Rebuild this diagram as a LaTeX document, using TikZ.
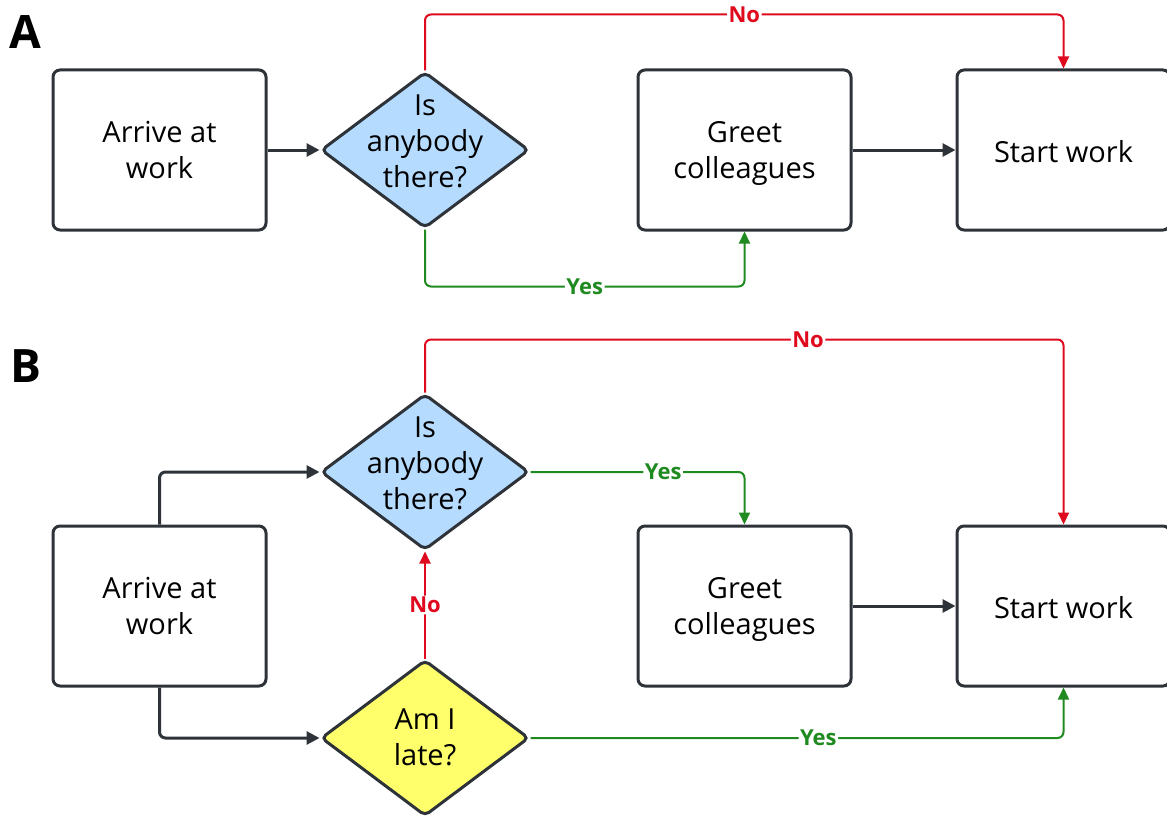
\documentclass[tikz,border=0pt]{standalone}
\usepackage{fontspec}
\setmainfont{Open Sans}
\usetikzlibrary{arrows.meta,shapes.geometric}
\definecolor{ink}{HTML}{2E333A}
\definecolor{nored}{HTML}{DF0A1E}
\definecolor{yesgreen}{HTML}{1F8A1F}
\definecolor{qblue}{HTML}{B5DBFF}
\definecolor{qyellow}{HTML}{FFFF6B}
\begin{document}
\begin{tikzpicture}[x=1pt,y=-1pt,
  every node/.style={font=\fontsize{29}{36}\selectfont, text=black},
  stepbox/.style={draw=ink, line width=3pt, rounded corners=7pt, minimum width=213pt,
    minimum height=160pt, inner sep=0pt, align=center, fill=white},
  boxtext/.style={align=center, yshift=-3pt},
  question/.style={diamond, draw=ink, line width=3pt, rounded corners=5pt,
    minimum width=208pt, minimum height=156pt, inner sep=0pt},
  qtext/.style={align=center},
  flow/.style={draw=ink, line width=3pt, -{Triangle[length=13pt,width=13pt]}, rounded corners=6pt},
  yesflow/.style={draw=yesgreen, line width=2pt, -{Triangle[length=12pt,width=11pt]}, rounded corners=6pt},
  noflow/.style={draw=nored, line width=2pt, -{Triangle[length=12pt,width=11pt]}, rounded corners=6pt},
  tag/.style={font=\fontsize{22}{22}\selectfont\bfseries, fill=white, inner sep=1.5pt},
  panel/.style={font=\fontsize{46}{46}\selectfont\bfseries, anchor=north west, inner sep=0pt}
]
\useasboundingbox (0,0) rectangle (1167,816);

% ---------- Panel A ----------
\node[panel] (labA) at (9,15) {A};
\node[stepbox] (arriveA) at (159.5,150) {};
\node[boxtext] at (arriveA) {\strut Arrive at\\work\strut};
\node[question, fill=qblue] (askA) at (425,150) {};
\node[qtext, yshift=6pt] at (askA) {\strut Is\\anybody\\there?\strut};
\node[stepbox] (greetA) at (744.5,150) {};
\node[boxtext] at (greetA) {\strut Greet\\colleagues\strut};
\node[stepbox] (startA) at (1063.5,150) {};
\node[boxtext, yshift=-2pt] at (startA) {\strut Start work};

\draw[flow] (arriveA.east) -- (askA.west);
\draw[flow] (greetA.east) -- (startA.west);
\draw[noflow] (askA.north) -- ++(0,-56) -| node[tag, pos=0.25, text=nored] {No} (startA.north);
\draw[yesflow] (askA.south) -- ++(0,57) -| node[tag, pos=0.25, text=yesgreen] {Yes} (greetA.south);

% ---------- Panel B ----------
\node[panel] (labB) at (10,349) {B};
\node[stepbox] (arriveB) at (159.5,606) {};
\node[boxtext] at (arriveB) {\strut Arrive at\\work\strut};
\node[question, fill=qblue] (askB) at (425,472) {};
\node[qtext, yshift=6pt] at (askB) {\strut Is\\anybody\\there?\strut};
\node[question, fill=qyellow] (lateB) at (425,738) {};
\node[qtext, yshift=-2.5pt] at (lateB) {\strut Am I\\late?\strut};
\node[stepbox] (greetB) at (744.5,606) {};
\node[boxtext] at (greetB) {\strut Greet\\colleagues\strut};
\node[stepbox] (startB) at (1063.5,606) {};
\node[boxtext, yshift=-2pt] at (startB) {\strut Start work};

\draw[flow] (arriveB.north) |- (askB.west);
\draw[flow] (arriveB.south) |- (lateB.west);
\draw[flow] (greetB.east) -- (startB.west);
\draw[noflow] (askB.north) -- ++(0,-53) -| node[tag, pos=0.3, text=nored] {No} (startB.north);
\draw[yesflow] (askB.east) -| node[tag, pos=0.31, text=yesgreen] {Yes} (greetB.north);
\draw[noflow] (lateB.north) -- node[tag, text=nored] {No} (askB.south);
\draw[yesflow] (lateB.east) -| node[tag, pos=0.27, text=yesgreen] {Yes} (startB.south);
\end{tikzpicture}
\end{document}
